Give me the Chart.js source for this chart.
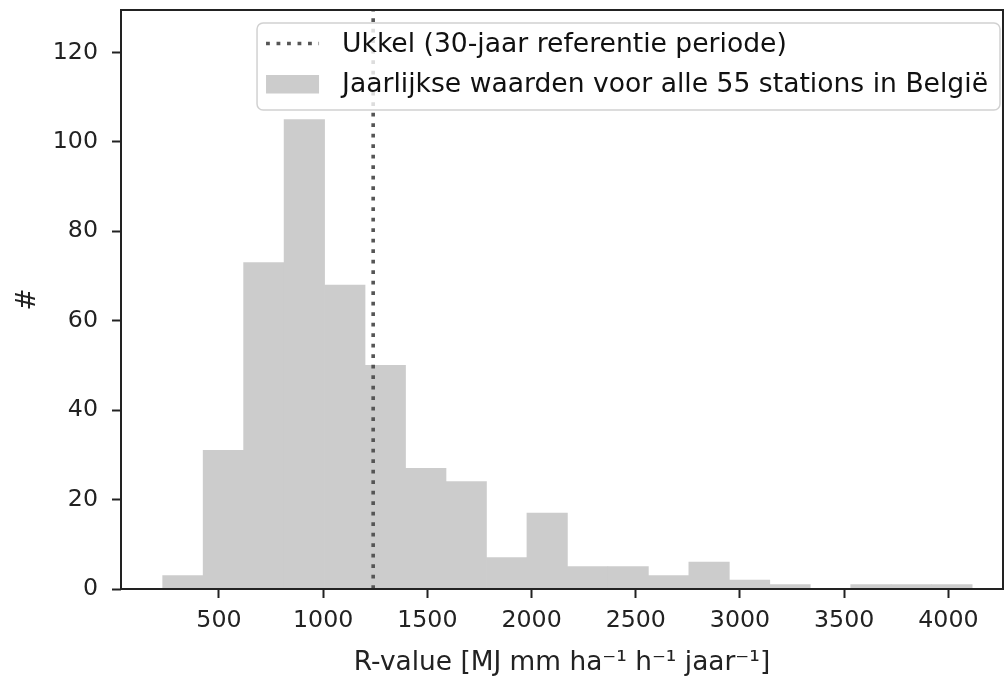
<!DOCTYPE html>
<html>
<head>
<meta charset="utf-8">
<script src="https://cdn.jsdelivr.net/npm/chart.js@4.4.1/dist/chart.umd.min.js"></script>
<style>
html, body { margin: 0; padding: 0; background: #fff; }
#wrap { width: 1005px; height: 678px; }
</style>
</head>
<body>
<div id="wrap"><canvas id="histChart" width="1005" height="678"></canvas></div>
<script>
// histogram bins (R-value) and counts
var binEdges = [230.0, 424.2, 618.4, 812.6, 1006.8, 1201.0, 1395.2, 1589.4, 1783.6, 1977.8,
                2172.0, 2366.2, 2560.4, 2754.6, 2948.8, 3143.0, 3337.2, 3531.4, 3725.6, 3919.8, 4114.0];
var stationCounts = [3, 31, 73, 105, 68, 50, 27, 24, 7, 17, 5, 5, 3, 6, 2, 1, 0, 1, 1, 1];
var ukkelValue = 1240;

var xTicks = [500, 1000, 1500, 2000, 2500, 3000, 3500, 4000];
var yTicks = [0, 20, 40, 60, 80, 100, 120];
var xRange = [30, 4262];
var yRange = [0, 129.5];

var legendLabels = ['Ukkel (30-jaar referentie periode)', 'Jaarlijkse waarden voor alle 55 stations in België'];
var xTitle = 'R-value [MJ mm ha\u207B\u00B9 h\u207B\u00B9 jaar\u207B\u00B9]';
var yTitle = '#';

var FONT = "'DejaVu Sans', sans-serif";
var barColor = '#cccccc';
var lineColor = '#555555';

var barData = stationCounts.map(function(c, i) {
    return { x: (binEdges[i] + binEdges[i + 1]) / 2, y: c };
});

// frame + matplotlib style legend inside the axes
var framePlugin = {
    id: 'framePlugin',
    afterDatasetsDraw: function(chart) {
        var ctx = chart.ctx, a = chart.chartArea;
        ctx.save();
        ctx.strokeStyle = '#222';
        ctx.lineWidth = 2;
        ctx.strokeRect(a.left, a.top, a.right - a.left, a.bottom - a.top);
        ctx.restore();
    },
    afterDraw: function(chart) {
        var ctx = chart.ctx, a = chart.chartArea;
        ctx.save();
        ctx.font = '26.6px ' + FONT;
        var textW = Math.max.apply(null, legendLabels.map(function(t) { return ctx.measureText(t).width; }));
        var boxRight = a.right - 3;
        var textX = boxRight - 12 - textW;
        var handleX = textX - 76;
        var boxLeft = handleX - 9;
        var boxTop = a.top + 13, boxBottom = a.top + 100;

        ctx.beginPath();
        ctx.roundRect(boxLeft, boxTop, boxRight - boxLeft, boxBottom - boxTop, 6);
        ctx.fillStyle = 'rgba(255,255,255,0.8)';
        ctx.fill();
        ctx.strokeStyle = 'rgba(204,204,204,0.9)';
        ctx.lineWidth = 1.5;
        ctx.stroke();

        // dotted line handle
        ctx.beginPath();
        ctx.setLineDash([3.8, 6.7]);
        ctx.strokeStyle = lineColor;
        ctx.lineWidth = 3.6;
        ctx.moveTo(handleX, a.top + 33.5);
        ctx.lineTo(handleX + 53, a.top + 33.5);
        ctx.stroke();
        ctx.setLineDash([]);

        // patch handle
        ctx.fillStyle = barColor;
        ctx.fillRect(handleX, a.top + 65, 53, 18.5);

        ctx.fillStyle = '#111';
        ctx.textBaseline = 'alphabetic';
        ctx.textAlign = 'left';
        ctx.fillText(legendLabels[0], textX, a.top + 41.5);
        ctx.fillText(legendLabels[1], textX, a.top + 82);
        ctx.restore();
    }
};

var ctx = document.getElementById('histChart').getContext('2d');
var histChart = new Chart(ctx, {
    type: 'bar',
    data: {
        datasets: [{
            type: 'line',
            label: legendLabels[0],
            data: [{ x: ukkelValue, y: yRange[0] }, { x: ukkelValue, y: yRange[1] }],
            borderColor: lineColor,
            borderWidth: 3.6,
            borderDash: [3.8, 6.7],
            borderCapStyle: 'butt',
            pointRadius: 0,
            fill: false,
            order: 0
        }, {
            type: 'bar',
            label: legendLabels[1],
            data: barData,
            backgroundColor: barColor,
            borderWidth: 0,
            barPercentage: 1,
            categoryPercentage: 1,
            order: 1
        }]
    },
    options: {
        responsive: false,
        animation: false,
        devicePixelRatio: 1,
        layout: { autoPadding: false, padding: { top: 10, right: 2, left: 0, bottom: 0 } },
        plugins: {
            legend: { display: false },
            tooltip: { enabled: false }
        },
        scales: {
            x: {
                type: 'linear',
                offset: false,
                min: xRange[0],
                max: xRange[1],
                afterBuildTicks: function(scale) {
                    scale.ticks = xTicks.map(function(v) { return { value: v }; });
                },
                afterFit: function(scale) {
                    scale.height = 89;
                    scale.paddingLeft = 0; scale.paddingRight = 0;
                },
                border: { display: false },
                grid: { display: true, offset: false, drawOnChartArea: false, drawTicks: true, tickLength: 9, tickWidth: 2, tickColor: '#222' },
                ticks: {
                    autoSkip: false, maxRotation: 0, padding: 9, color: '#222',
                    font: { family: FONT, size: 23.7 },
                    callback: function(v) { return String(v); }
                },
                title: {
                    display: true, text: xTitle, color: '#222',
                    font: { family: FONT, size: 26.4, lineHeight: 1.1 },
                    padding: { top: 0, bottom: 0 }
                }
            },
            y: {
                type: 'linear',
                min: yRange[0],
                max: yRange[1],
                afterBuildTicks: function(scale) {
                    scale.ticks = yTicks.map(function(v) { return { value: v }; });
                },
                afterFit: function(scale) {
                    scale.width = 121;
                    scale.paddingTop = 0; scale.paddingBottom = 0;
                },
                border: { display: false },
                grid: { display: true, drawOnChartArea: false, drawTicks: true, tickLength: 9, tickWidth: 2, tickColor: '#222' },
                ticks: {
                    autoSkip: false, padding: 14, color: '#222',
                    font: { family: FONT, size: 23.7 },
                    callback: function(v) { return String(v); }
                },
                title: {
                    display: true, text: yTitle, color: '#222',
                    font: { family: FONT, size: 26.4, lineHeight: 1.1 },
                    padding: { top: 14, bottom: 0 }
                }
            }
        }
    },
    plugins: [framePlugin]
});
</script>
</body>
</html>
